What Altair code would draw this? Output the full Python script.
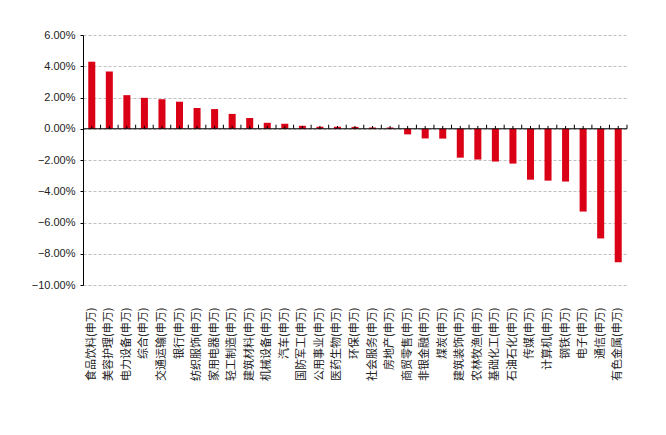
import altair as alt
import pandas as pd

categories = [
    "食品饮料(申万)", "美容护理(申万)", "电力设备(申万)", "综合(申万)", "交通运输(申万)",
    "银行(申万)", "纺织服饰(申万)", "家用电器(申万)", "轻工制造(申万)", "建筑材料(申万)",
    "机械设备(申万)", "汽车(申万)", "国防军工(申万)", "公用事业(申万)", "医药生物(申万)",
    "环保(申万)", "社会服务(申万)", "房地产(申万)", "商贸零售(申万)", "非银金融(申万)",
    "煤炭(申万)", "建筑装饰(申万)", "农林牧渔(申万)", "基础化工(申万)", "石油石化(申万)",
    "传媒(申万)", "计算机(申万)", "钢铁(申万)", "电子(申万)", "通信(申万)", "有色金属(申万)",
]
values_pct = [
    4.29, 3.66, 2.15, 1.98, 1.89,
    1.73, 1.33, 1.26, 0.95, 0.69,
    0.38, 0.32, 0.19, 0.13, 0.13,
    0.12, 0.08, 0.08, -0.36, -0.62,
    -0.63, -1.85, -1.97, -2.10, -2.23,
    -3.26, -3.32, -3.38, -5.30, -7.02, -8.55,
]
y_ticks = [-0.10, -0.08, -0.06, -0.04, -0.02, 0.0, 0.02, 0.04, 0.06]

df = pd.DataFrame({"cat": categories, "v": [p / 100 for p in values_pct]})
df["zero"] = 0.0
df["maj"] = 0.0026
df["mnr"] = 0.0018

RED = "#DA0015"
cat_font = "Noto Sans CJK SC"
num_font = "Liberation Sans"

x_scale = alt.Scale(paddingInner=0, paddingOuter=0)
x_axis = alt.Axis(
    labelAngle=-90,
    ticks=False,
    domain=False,
    labelPadding=22,
    labelOverlap=False,
    title=None,
    labelFont=cat_font,
    labelFontSize=11,
    labelColor="#222222",
)
y_scale = alt.Scale(domain=[-0.10, 0.06], nice=False)
y_axis = alt.Axis(
    values=y_ticks,
    tickCount=20,
    format=".2%",
    title=None,
    labelOverlap=False,
    labelFlush=False,
    domainColor="#000000",
    tickColor="#000000",
    tickSize=3,
    labelPadding=5,
    labelFont=num_font,
    labelFontSize=11,
    labelColor="#222222",
    gridColor="#BFBFBF",
    gridDash=[3, 2],
    gridWidth=1,
)


def xe(band=None):
    if band is None:
        return alt.X("cat:N", sort=categories, scale=x_scale, axis=x_axis)
    return alt.X("cat:N", sort=categories, scale=x_scale, axis=x_axis, bandPosition=band)


base = alt.Chart(df)

bars = base.mark_bar(color=RED, width=alt.RelativeBandSize(0.4)).encode(
    x=xe(),
    y=alt.Y("v:Q", scale=y_scale, axis=y_axis),
)
major_ticks = base.mark_rule(color="#000000", strokeWidth=1).encode(
    x=xe(1),
    y=alt.Y("zero:Q", scale=y_scale, axis=y_axis),
    y2="maj:Q",
)
minor_ticks = base.mark_rule(color="#000000", strokeWidth=1).encode(
    x=xe(0.5),
    y=alt.Y("zero:Q", scale=y_scale, axis=y_axis),
    y2="mnr:Q",
)
zero_line = base.transform_filter(alt.datum.cat == categories[0]).mark_rule(
    color="#000000", strokeWidth=1
).encode(
    x=alt.value(0),
    x2=alt.value(544),
    y=alt.Y("zero:Q", scale=y_scale, axis=y_axis),
)

chart = (
    alt.layer(bars, major_ticks, minor_ticks, zero_line)
    .properties(
        width=544,
        height=250,
        autosize=alt.AutoSizeParams(type="none"),
        padding={"left": 75, "top": 27, "right": 31, "bottom": 142},
        background="#FFFFFF",
    )
    .configure_view(strokeWidth=0)
)

chart.save("out.html", embed_options={"renderer": "svg", "actions": False})
